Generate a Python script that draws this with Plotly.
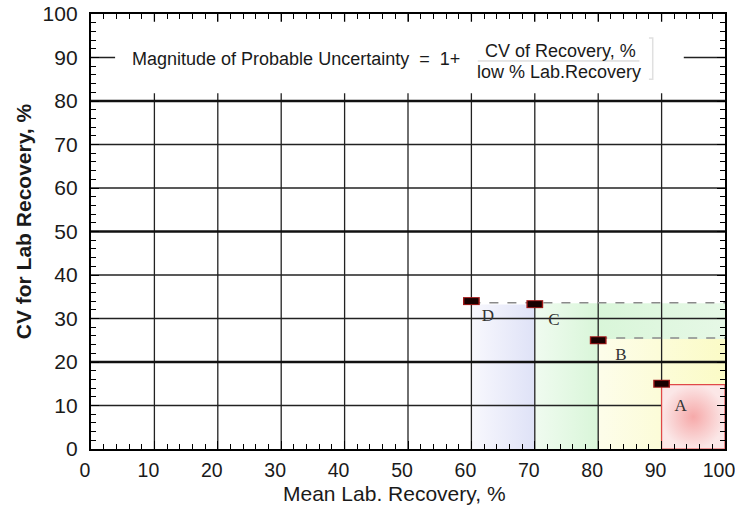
import plotly.graph_objects as go

# ---- data ----
point_labels = ["A", "B", "C", "D"]
point_x = [90, 80, 70, 60]
point_y = [15.0, 25.0, 33.3, 34.0]
label_x = [93.0, 83.6, 73.0, 62.6]
label_y = [9.8, 21.5, 29.4, 30.5]

# shaded regions: (x0, x1, y0, y1)
region_blue = (60, 70, 0, 33.2)
region_green = (70, 100, 0, 33.5)
region_yellow = (80, 100, 0, 25.3)
region_red = (90, 100, 0, 14.8)

dash_lines = [(60, 100, 33.6), (80, 100, 25.5)]

x_ticks = [0, 10, 20, 30, 40, 50, 60, 70, 80, 90, 100]
y_ticks = [0, 10, 20, 30, 40, 50, 60, 70, 80, 90, 100]
thick_y = [20, 50, 80]

x_title = "Mean Lab. Recovery, %"
y_title = "CV for Lab Recovery, %"
formula_left = "Magnitude of Probable Uncertainty  =  1+"
formula_num = "CV of Recovery, %"
formula_den = "low % Lab.Recovery"

fig = go.Figure()


def rect_xy(r):
    x0, x1, y0, y1 = r
    return [x0, x1, x1, x0, x0], [y0, y0, y1, y1, y0]


# blue region (horizontal gradient: light at left, bluer at right)
xs, ys = rect_xy(region_blue)
fig.add_trace(go.Scatter(x=xs, y=ys, fill="toself", mode="lines", line=dict(width=0),
                         fillgradient=dict(type="horizontal",
                                           colorscale=[[0, "#f8f8fd"], [1, "#dfe2f7"]]),
                         hoverinfo="skip", showlegend=False))
# green region
xs, ys = rect_xy(region_green)
fig.add_trace(go.Scatter(x=xs, y=ys, fill="toself", mode="lines", line=dict(width=0),
                         fillgradient=dict(type="horizontal",
                                           colorscale=[[0, "#f0fbf0"], [0.33, "#d9f6d9"], [1, "#e6f8e6"]]),
                         hoverinfo="skip", showlegend=False))
# yellow region
xs, ys = rect_xy(region_yellow)
fig.add_trace(go.Scatter(x=xs, y=ys, fill="toself", mode="lines", line=dict(width=0),
                         fillgradient=dict(type="horizontal",
                                           colorscale=[[0, "#fdfdea"], [1, "#fbfbc6"]]),
                         hoverinfo="skip", showlegend=False))

# grid lines drawn from tick arrays
gx, gy = [], []
for t in x_ticks[1:-1]:
    gx += [t, t, None]
    gy += [0, 100, None]
for t in y_ticks[1:-1]:
    if t in thick_y:
        continue
    gx += [0, 100, None]
    gy += [t, t, None]
fig.add_trace(go.Scatter(x=gx, y=gy, mode="lines", line=dict(color="#222222", width=1.3),
                         hoverinfo="skip", showlegend=False))
tx, ty = [], []
for t in thick_y:
    tx += [0, 100, None]
    ty += [t, t, None]
fig.add_trace(go.Scatter(x=tx, y=ty, mode="lines", line=dict(color="#111111", width=2.3),
                         hoverinfo="skip", showlegend=False))

# red region (radial gradient) with red outline
xs, ys = rect_xy(region_red)
fig.add_trace(go.Scatter(x=xs, y=ys, fill="toself", mode="lines",
                         line=dict(color="#e04848", width=1.2),
                         fillgradient=dict(type="radial",
                                           colorscale=[[0, "#f6a9a9"], [1, "#fbe7e7"]]),
                         hoverinfo="skip", showlegend=False))

# dashed lines
for x0, x1, yv in dash_lines:
    fig.add_trace(go.Scatter(x=[x0, x1], y=[yv, yv], mode="lines",
                             line=dict(color="#8a8a8a", width=1.5, dash="dash"),
                             hoverinfo="skip", showlegend=False))

# markers (dark rectangles with thin red rim)
fig.add_trace(go.Scatter(x=point_x, y=point_y, mode="markers",
                         marker=dict(symbol="line-ew", size=12, line=dict(color="#a01818", width=8)),
                         hoverinfo="skip", showlegend=False))
fig.add_trace(go.Scatter(x=point_x, y=point_y, mode="markers",
                         marker=dict(symbol="line-ew", size=10, line=dict(color="#180000", width=6)),
                         hoverinfo="skip", showlegend=False))

# point labels
fig.add_trace(go.Scatter(x=label_x, y=label_y, mode="text", text=point_labels,
                         textfont=dict(family="Liberation Serif, Times New Roman, serif", size=17, color="#333333"),
                         hoverinfo="skip", showlegend=False))

# white box for the formula
fig.add_shape(type="rect", x0=3.8, x1=93.5, y0=81.8, y1=98.2, xref="x", yref="y",
              fillcolor="white", line=dict(width=0), layer="above")
# fraction bar and faint bracket
fig.add_shape(type="line", x0=61.0, x1=86.5, y0=89.2, y1=89.2, xref="x", yref="y",
              line=dict(color="#cccccc", width=1), layer="above")
fig.add_shape(type="path", path="M 88.0 94.5 L 88.6 94.5 L 88.6 85.0 L 88.0 85.0",
              xref="x", yref="y", line=dict(color="#e0e0e0", width=1.5), layer="above")

font_sans = "Liberation Sans, Arial, sans-serif"
fig.add_annotation(x=32.3, y=89.6, text=formula_left, showarrow=False, xref="x", yref="y",
                   font=dict(family=font_sans, size=18, color="#1a1a1a"))
fig.add_annotation(x=74.0, y=91.6, text=formula_num, showarrow=False, xref="x", yref="y",
                   font=dict(family=font_sans, size=18, color="#1a1a1a"))
fig.add_annotation(x=73.8, y=86.6, text=formula_den, showarrow=False, xref="x", yref="y",
                   font=dict(family=font_sans, size=18, color="#1a1a1a"))

# axis titles as annotations (placed relative to the plot area)
fig.add_annotation(x=0.478, y=-0.103, xref="paper", yref="paper", text=x_title, showarrow=False,
                   xanchor="center", yanchor="middle",
                   font=dict(family=font_sans, size=21, color="#1a1a1a"))
fig.add_annotation(x=-0.107, y=0.524, xref="paper", yref="paper", text="<b>" + y_title + "</b>",
                   showarrow=False, textangle=-90, xanchor="center", yanchor="middle",
                   font=dict(family=font_sans, size=21, color="#1a1a1a"))

axis_common = dict(
    range=[0, 100], showgrid=False, zeroline=False, automargin=False,
    showline=True, linecolor="black", linewidth=2.4, mirror="ticks",
    ticks="inside", ticklen=8, tickwidth=1.3, tickcolor="black",
    ticklabeloverflow="allow",
    minor=dict(ticks="inside", ticklen=5, tickwidth=1, tickcolor="black", dtick=2),
)

fig.update_layout(
    width=735, height=512,
    margin=dict(l=91, r=10, t=14, b=63),
    paper_bgcolor="white", plot_bgcolor="white",
    xaxis=dict(**axis_common, tickvals=x_ticks, ticktext=[str(v) for v in x_ticks],
               ticklabelstandoff=2, ticklabelshift=-6,
               tickfont=dict(family=font_sans, size=19.5, color="#1a1a1a")),
    yaxis=dict(**axis_common, tickvals=y_ticks, ticktext=[str(v) for v in y_ticks],
               ticklabelstandoff=7,
               tickfont=dict(family=font_sans, size=21, color="#1a1a1a")),
)

# remove the default page margin so the 735x512 figure fills the window exactly
fig.write_html("out.html", config={"displayModeBar": False},
               post_script="document.body.style.margin='0';document.body.style.overflow='hidden';")
